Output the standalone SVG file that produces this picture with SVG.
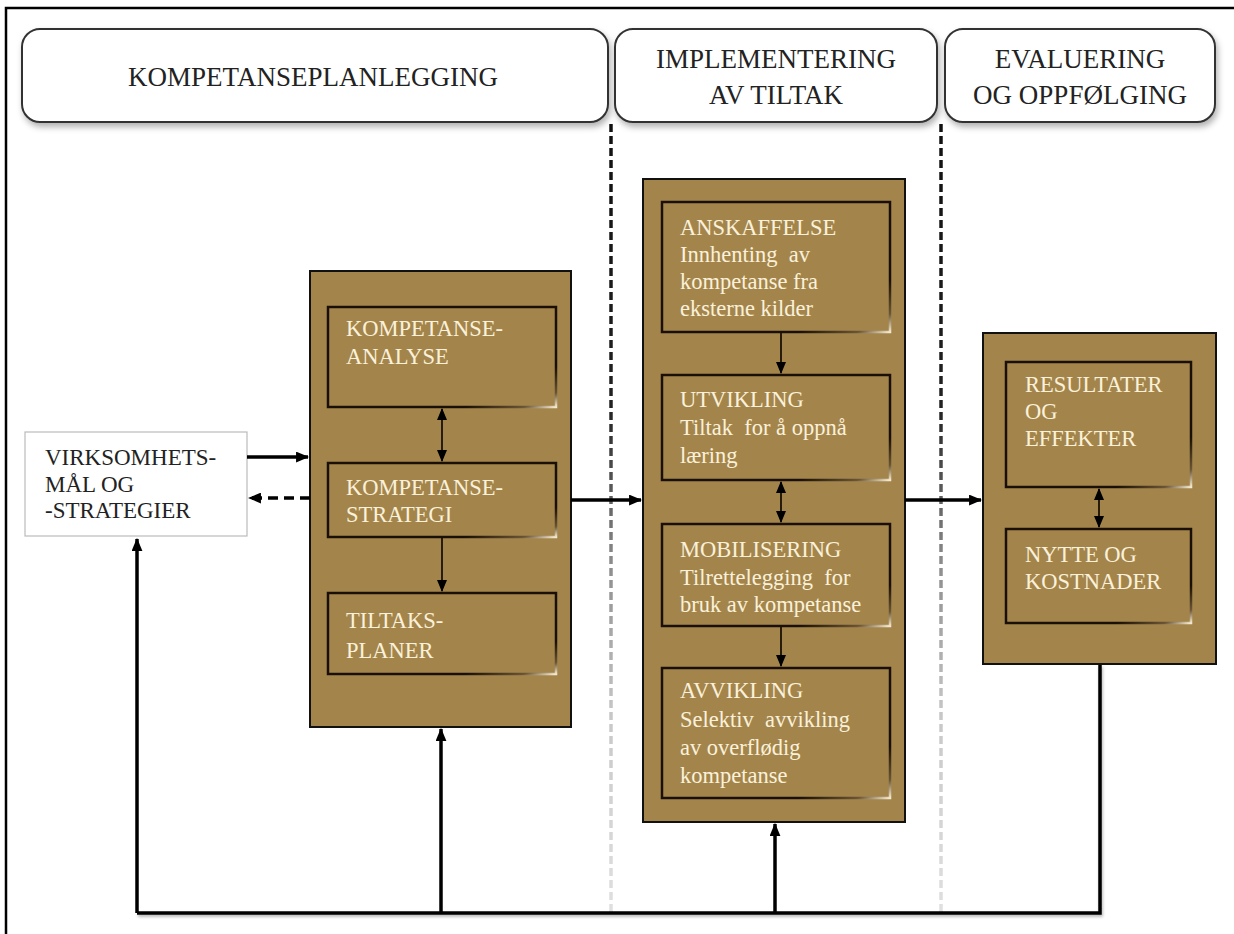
<svg xmlns="http://www.w3.org/2000/svg" width="1234" height="934" viewBox="0 0 1234 934">
  <defs>
    <style>
      .hdr { fill: #ffffff; stroke: #333333; stroke-width: 2; filter: url(#shadow); }
      .hdr-txt { font-family: "Liberation Serif", "Times New Roman", serif; font-size: 27px; fill: #222222; text-anchor: middle; }
      .panel { fill: #A3854C; stroke: #111111; stroke-width: 2; }
      .cell { fill: #A3854C; stroke: url(#bevel); stroke-width: 2.5; }
      .cell-txt { font-family: "Liberation Serif", "Times New Roman", serif; font-size: 22.5px; fill: #FBF1DA; }
      .goal { fill: #ffffff; stroke: #bbbbbb; stroke-width: 1.2; }
      .goal-txt { font-family: "Liberation Serif", "Times New Roman", serif; font-size: 23px; fill: #222222; }
      .flow { stroke: #000000; stroke-width: 3.5; fill: none; }
      .flow-dash { stroke: #000000; stroke-width: 3.5; fill: none; stroke-dasharray: 10 6; }
      .inner { stroke: #1a1008; stroke-width: 1.8; fill: none; }
      .divider { stroke: url(#fade); stroke-width: 3.5; stroke-dasharray: 8 4; fill: none; }
    </style>
    <filter id="shadow" x="-5%" y="-10%" width="115%" height="130%">
      <feDropShadow dx="2" dy="4" stdDeviation="3" flood-color="#000000" flood-opacity="0.3"/>
    </filter>
    <filter id="lineshadow" x="-5%" y="-50%" width="110%" height="300%">
      <feDropShadow dx="1" dy="2" stdDeviation="1.5" flood-color="#000000" flood-opacity="0.3"/>
    </filter>
    <linearGradient id="bevel" x1="0" y1="0" x2="1" y2="1">
      <stop offset="0" stop-color="#1a0f05"/>
      <stop offset="0.8" stop-color="#1a0f05"/>
      <stop offset="0.93" stop-color="#6b5535"/>
      <stop offset="1" stop-color="#f3e8cf"/>
    </linearGradient>
    <linearGradient id="fade" gradientUnits="userSpaceOnUse" x1="0" y1="122" x2="0" y2="915">
      <stop offset="0" stop-color="#111111"/>
      <stop offset="0.36" stop-color="#222222"/>
      <stop offset="0.55" stop-color="#8a8a8a"/>
      <stop offset="0.75" stop-color="#c8c8c8"/>
      <stop offset="1" stop-color="#e0e0e0"/>
    </linearGradient>
    <marker id="head" viewBox="0 0 12 10" refX="11" refY="5" markerWidth="13" markerHeight="11" markerUnits="userSpaceOnUse" orient="auto-start-reverse">
      <path d="M0,0 L12,5 L0,10 z" fill="#000000"/>
    </marker>
    <marker id="head-s" viewBox="0 0 12 10" refX="11" refY="5" markerWidth="12" markerHeight="11" markerUnits="userSpaceOnUse" orient="auto-start-reverse">
      <path d="M0,0 L12,5 L0,10 z" fill="#000000"/>
    </marker>
  </defs>

  <rect width="1234" height="934" fill="#ffffff"/>

  <!-- outer frame (left and top edges) -->
  <path d="M6,940 V8 H1240" fill="none" stroke="#000000" stroke-width="2.5"/>

  <!-- phase headers -->
  <g id="hdr-planning">
    <rect class="hdr" x="22" y="29" width="586" height="93" rx="18"/>
    <text class="hdr-txt" x="313" y="86">KOMPETANSEPLANLEGGING</text>
  </g>
  <g id="hdr-implementation">
    <rect class="hdr" x="615" y="29" width="322" height="93" rx="18"/>
    <text class="hdr-txt" x="776" y="68">IMPLEMENTERING</text>
    <text class="hdr-txt" x="776" y="104">AV TILTAK</text>
  </g>
  <g id="hdr-evaluation">
    <rect class="hdr" x="945" y="29" width="270" height="93" rx="18"/>
    <text class="hdr-txt" x="1080" y="68">EVALUERING</text>
    <text class="hdr-txt" x="1080" y="104">OG OPPFØLGING</text>
  </g>

  <!-- phase dividers -->
  <g id="dividers">
    <line class="divider" x1="611" y1="124" x2="611" y2="915"/>
    <line class="divider" x1="941" y1="124" x2="941" y2="915"/>
  </g>

  <!-- business goals -->
  <g id="goals">
    <rect class="goal" x="25" y="432" width="222" height="104"/>
    <text class="goal-txt" x="45" y="465">VIRKSOMHETS-</text>
    <text class="goal-txt" x="45" y="492">MÅL OG</text>
    <text class="goal-txt" x="45" y="518">-STRATEGIER</text>
  </g>

  <!-- planning panel -->
  <g id="planning">
    <rect class="panel" x="310" y="271" width="261" height="456"/>
    <g id="analysis">
      <rect class="cell" x="328" y="307" width="228" height="100"/>
      <text class="cell-txt" x="346" y="336">KOMPETANSE-</text>
      <text class="cell-txt" x="346" y="364">ANALYSE</text>
    </g>
    <g id="strategy">
      <rect class="cell" x="328" y="463" width="228" height="74"/>
      <text class="cell-txt" x="346" y="495">KOMPETANSE-</text>
      <text class="cell-txt" x="346" y="522">STRATEGI</text>
    </g>
    <g id="action-plans">
      <rect class="cell" x="328" y="593" width="228" height="81"/>
      <text class="cell-txt" x="346" y="628" font-size="24">TILTAKS-</text>
      <text class="cell-txt" x="346" y="658" font-size="24">PLANER</text>
    </g>
  </g>

  <!-- implementation panel -->
  <g id="implementation">
    <rect class="panel" x="643" y="179" width="262" height="643"/>
    <g id="acquisition">
      <rect class="cell" x="662" y="202" width="228" height="130"/>
      <text class="cell-txt" x="680" y="235">ANSKAFFELSE</text>
      <text class="cell-txt" x="680" y="262" xml:space="preserve">Innhenting  av</text>
      <text class="cell-txt" x="680" y="289">kompetanse fra</text>
      <text class="cell-txt" x="680" y="316">eksterne kilder</text>
    </g>
    <g id="development">
      <rect class="cell" x="662" y="375" width="228" height="105"/>
      <text class="cell-txt" x="680" y="407">UTVIKLING</text>
      <text class="cell-txt" x="680" y="435" xml:space="preserve">Tiltak  for å oppnå</text>
      <text class="cell-txt" x="680" y="463">læring</text>
    </g>
    <g id="mobilisation">
      <rect class="cell" x="662" y="524" width="228" height="102"/>
      <text class="cell-txt" x="680" y="557">MOBILISERING</text>
      <text class="cell-txt" x="680" y="585" xml:space="preserve">Tilrettelegging  for</text>
      <text class="cell-txt" x="680" y="612">bruk av kompetanse</text>
    </g>
    <g id="phase-out">
      <rect class="cell" x="662" y="668" width="228" height="130"/>
      <text class="cell-txt" x="680" y="698">AVVIKLING</text>
      <text class="cell-txt" x="680" y="727" xml:space="preserve">Selektiv  avvikling</text>
      <text class="cell-txt" x="680" y="755">av overflødig</text>
      <text class="cell-txt" x="680" y="783">kompetanse</text>
    </g>
  </g>

  <!-- evaluation panel -->
  <g id="evaluation">
    <rect class="panel" x="983" y="333" width="233" height="331"/>
    <g id="results">
      <rect class="cell" x="1006" y="362" width="185" height="125"/>
      <text class="cell-txt" x="1025" y="392">RESULTATER</text>
      <text class="cell-txt" x="1025" y="419">OG</text>
      <text class="cell-txt" x="1025" y="446">EFFEKTER</text>
    </g>
    <g id="benefits">
      <rect class="cell" x="1006" y="529" width="185" height="94"/>
      <text class="cell-txt" x="1025" y="562">NYTTE OG</text>
      <text class="cell-txt" x="1025" y="589">KOSTNADER</text>
    </g>
  </g>

  <!-- connectors -->
  <g id="connectors">
    <!-- goals <-> planning -->
    <line class="flow" x1="247" y1="457" x2="308" y2="457" marker-end="url(#head)"/>
    <line class="flow-dash" x1="310" y1="498" x2="249" y2="498" marker-end="url(#head)"/>
    <!-- inside planning -->
    <line class="inner" x1="442" y1="409" x2="442" y2="461" marker-start="url(#head-s)" marker-end="url(#head-s)"/>
    <line class="inner" x1="442" y1="538" x2="442" y2="591" marker-end="url(#head-s)"/>
    <!-- planning -> implementation -> evaluation -->
    <line class="flow" x1="571" y1="500" x2="641" y2="500" marker-end="url(#head)"/>
    <line class="flow" x1="905" y1="500" x2="981" y2="500" marker-end="url(#head)"/>
    <!-- inside implementation -->
    <line class="inner" x1="781" y1="333" x2="781" y2="373" marker-end="url(#head-s)"/>
    <line class="inner" x1="781" y1="482" x2="781" y2="522" marker-start="url(#head-s)" marker-end="url(#head-s)"/>
    <line class="inner" x1="781" y1="627" x2="781" y2="666" marker-end="url(#head-s)"/>
    <!-- inside evaluation -->
    <line class="inner" x1="1099" y1="489" x2="1099" y2="527" marker-start="url(#head-s)" marker-end="url(#head-s)"/>
    <!-- feedback loop -->
    <g filter="url(#lineshadow)">
      <path class="flow" d="M1100,665 V913 H137" stroke-width="4"/>
    </g>
    <line class="flow" x1="137" y1="913" x2="137" y2="539" marker-end="url(#head)"/>
    <line class="flow" x1="441" y1="913" x2="441" y2="729" marker-end="url(#head)"/>
    <line class="flow" x1="775" y1="913" x2="775" y2="824" marker-end="url(#head)"/>
  </g>
</svg>
